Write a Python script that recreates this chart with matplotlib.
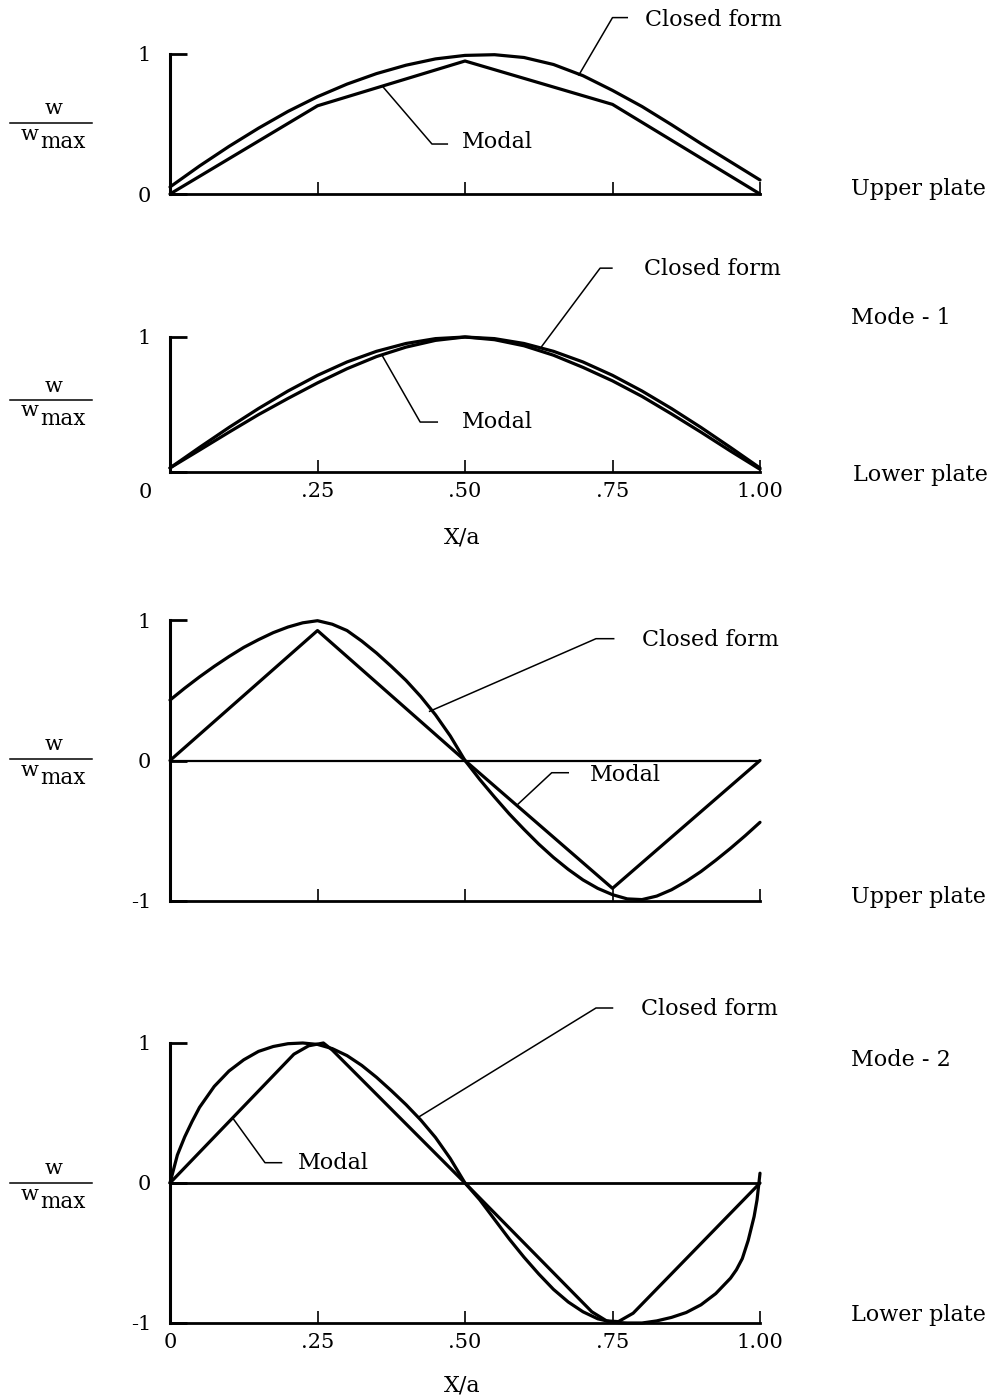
import matplotlib.pyplot as plt
from matplotlib.lines import Line2D

plt.rcParams['font.family'] = ['DejaVu Serif']
plt.rcParams['font.size'] = 15

W, H = 1002, 1399

# Mode 1, upper plate
x1_closed = [0, .05, .1, .15, .2, .25, .3, .35, .4, .45, .5,
             .55, .6, .65, .7, .75, .8, .85, .9, .95, 1.0]
y1_closed = [.05, .20, .34, .47, .59, .695, .785, .86, .92, .965, .99,
             .995, .975, .925, .845, .74, .625, .495, .36, .23, .10]
x1_modal = [0, .25, .5, .75, 1.0]
y1_modal = [0, .63, .95, .64, 0]

# Mode 1, lower plate
x2_closed = [0, .05, .1, .15, .2, .25, .3, .35, .4, .45, .5,
             .55, .6, .65, .7, .75, .8, .85, .9, .95, 1.0]
y2_closed = [.03, .182, .33, .47, .60, .716, .815, .894, .952, .988, 1.0,
             .988, .952, .894, .815, .716, .60, .47, .33, .182, .03]
x2_modal = x2_closed
y2_modal = [.03, .162, .295, .425, .545, .66, .765, .855, .925, .975, 1.0,
            .98, .935, .865, .775, .675, .56, .43, .295, .155, .02]

# Mode 2, upper plate
x3_closed = [0, .025, .05, .075, .1, .125, .15, .175, .2, .225, .25,
             .275, .3, .325, .35, .375, .4, .425, .45, .475, .5,
             .525, .55, .575, .6, .625, .65, .675, .7, .725, .75,
             .775, .8, .825, .85, .875, .9, .925, .95, .975, 1.0]
y3_closed = [.43, .515, .595, .67, .74, .805, .86, .91, .95, .98, .995,
             .97, .925, .85, .765, .67, .57, .455, .325, .175, 0,
             -.135, -.26, -.38, -.49, -.595, -.69, -.775, -.85, -.91, -.955,
             -.985, -.99, -.965, -.92, -.86, -.79, -.71, -.625, -.535, -.44]
x3_modal = [0, .25, .5, .75, 1.0]
y3_modal = [0, .925, 0, -.91, 0]

# Mode 2, lower plate
x4_closed = [0, .0125, .025, .0375, .05, .075, .1, .125, .15, .175, .2,
             .225, .25, .275, .3, .325, .35, .375, .4, .425, .45, .475, .5,
             .525, .55, .575, .6, .625, .65, .675, .7, .725, .75, .775, .8,
             .825, .85, .875, .9, .925, .95, .96, .97, .98, .99, .995, 1.0]
y4_closed = [0, .20, .33, .44, .54, .69, .80, .88, .94, .975, .995,
             1.0, .99, .96, .91, .84, .755, .66, .56, .45, .325, .175, 0,
             -.12, -.26, -.40, -.53, -.65, -.76, -.85, -.92, -.97, -.995, -1.0, -1.0,
             -.985, -.96, -.925, -.87, -.79, -.68, -.62, -.54, -.41, -.24, -.12, .07]
x4_modal = [0, .21, .235, .26, .275, .5, .715, .74, .76, .785, 1.0]
y4_modal = [0, .92, .98, 1.0, .95, 0, -.92, -.985, -.99, -.93, 0]

x_ticks = [.25, .5, .75, 1.0]
x_ticklabels = ['.25', '.50', '.75', '1.00']

LW_CURVE = 2.3
LW_LEAD = 1.1
FS_TEXT = 16


def panel(top_px, bottom_px, ylim, yticks, ylabels, xlabels=None):
    ax = fig.add_axes([170 / W, 1 - bottom_px / H, 590 / W, (bottom_px - top_px) / H])
    ax.set_xlim(0, 1)
    ax.set_ylim(*ylim)
    ax.patch.set_visible(False)
    for s in ('top', 'right'):
        ax.spines[s].set_visible(False)
    ax.spines['left'].set_linewidth(2.2)
    ax.spines['bottom'].set_linewidth(2.0)
    ax.set_yticks(yticks)
    ax.set_yticklabels(ylabels)
    ax.tick_params(axis='y', direction='in', length=12, width=2, pad=13.5)
    ax.set_xticks(x_ticks)
    if xlabels is None:
        ax.set_xticklabels([])
    else:
        ax.set_xticklabels(xlabels)
    ax.tick_params(axis='x', direction='in', length=8.5, width=1.2, pad=7)
    return ax


def curve(ax, x, y):
    ax.plot(x, y, color='black', lw=LW_CURVE, clip_on=False,
            solid_joinstyle='round', solid_capstyle='round')


def leader(ax, pts, label, text_xy):
    xs, ys = zip(*pts)
    ax.plot(xs, ys, color='black', lw=LW_LEAD, clip_on=False)
    ax.text(text_xy[0], text_xy[1], label, ha='left', va='center', fontsize=FS_TEXT)


def ratio_label(y_px):
    fig.add_artist(Line2D([10 / W, 92 / W], [1 - y_px / H] * 2, color='black', lw=1.1))
    fig.text(54 / W, 1 - (y_px - 14) / H, 'w', ha='center', va='center', fontsize=15)
    fig.text(30 / W, 1 - (y_px + 11) / H, 'w', ha='center', va='center', fontsize=15)
    fig.text(40 / W, 1 - (y_px + 19) / H, 'max', ha='left', va='center', fontsize=15.5)


def side_text(x_px, y_px, s):
    fig.text(x_px / W, 1 - y_px / H, s, ha='left', va='center', fontsize=FS_TEXT)


fig = plt.figure(figsize=(W / 100, H / 100), dpi=100)

# Mode 1, upper plate
ax1 = panel(54, 194, (0, 1), [0, 1], ['0', '1'])
curve(ax1, x1_closed, y1_closed)
curve(ax1, x1_modal, y1_modal)
leader(ax1, [(.693, .85), (.75, 1.26), (.775, 1.26)], 'Closed form', (.805, 1.24))
leader(ax1, [(.36, .77), (.444, .357), (.47, .357)], 'Modal', (.495, .37))
ratio_label(123)

# Mode 1, lower plate
ax2 = panel(337, 472, (0, 1), [0, 1], ['', '1'], x_ticklabels)
curve(ax2, x2_closed, y2_closed)
curve(ax2, x2_modal, y2_modal)
ax2.text(-.042, -.15, '0', ha='center', va='center', fontsize=15)
leader(ax2, [(.63, .93), (.729, 1.51), (.749, 1.51)], 'Closed form', (.803, 1.50))
leader(ax2, [(.36, .86), (.424, .37), (.453, .37)], 'Modal', (.495, .37))
ratio_label(400)
fig.text(462 / W, 1 - 537 / H, 'X/a', ha='center', va='center', fontsize=FS_TEXT)

# Mode 2, upper plate
ax3 = panel(620, 901, (-1, 1), [-1, 0, 1], ['-1', '0', '1'])
ax3.axhline(0, color='black', lw=1.6)
curve(ax3, x3_closed, y3_closed)
curve(ax3, x3_modal, y3_modal)
leader(ax3, [(.44, .35), (.722, .867), (.752, .867)], 'Closed form', (.80, .86))
leader(ax3, [(.59, -.31), (.647, -.087), (.675, -.087)], 'Modal', (.712, -.10))
ratio_label(759)

# Mode 2, lower plate
ax4 = panel(1043, 1323, (-1, 1), [-1, 0, 1], ['-1', '0', '1'])
ax4.set_xticks([0] + x_ticks)
ax4.set_xticklabels(['0'] + x_ticklabels)
ax4.axhline(0, color='black', lw=2.0)
curve(ax4, x4_closed, y4_closed)
curve(ax4, x4_modal, y4_modal)
leader(ax4, [(.421, .47), (.722, 1.25), (.75, 1.25)], 'Closed form', (.798, 1.24))
leader(ax4, [(.107, .46), (.161, .145), (.189, .145)], 'Modal', (.217, .14))
ratio_label(1183)
fig.text(462 / W, 1 - 1385 / H, 'X/a', ha='center', va='center', fontsize=FS_TEXT)

side_text(851, 189, 'Upper plate')
side_text(851, 318, 'Mode - 1')
side_text(853, 475, 'Lower plate')
side_text(851, 897, 'Upper plate')
side_text(851, 1060, 'Mode - 2')
side_text(851, 1315, 'Lower plate')

fig.savefig('out.png', dpi=100)
